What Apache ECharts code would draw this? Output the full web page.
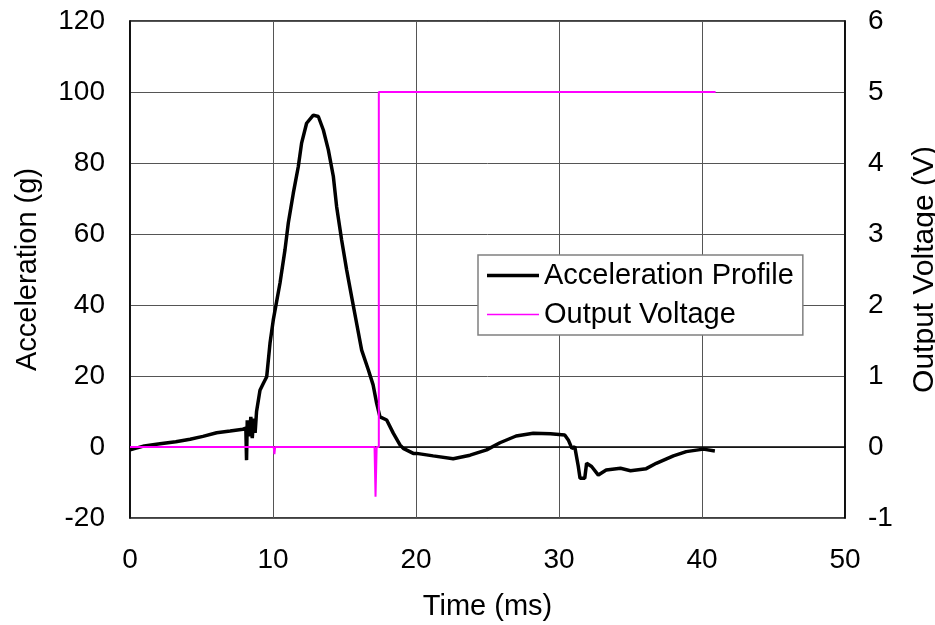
<!DOCTYPE html>
<html>
<head>
<meta charset="utf-8">
<script src="https://cdn.jsdelivr.net/npm/echarts@6/dist/echarts.min.js"></script>
<style>
  html, body { margin: 0; padding: 0; background: #fff; }
  #chart { width: 935px; height: 625px; }
</style>
</head>
<body>
<div id="chart"></div>
<script>
// 加速度曲线 (ms, g)
var accTime = [0, 0.12, 1.0, 2.1, 3.2, 4.2, 5.1, 6.06, 7.0, 7.9, 8.1, 8.15, 8.2, 8.35, 8.45, 8.55, 8.65, 8.75, 8.85,
  9.09, 9.32, 9.56, 9.79, 10.02, 10.49, 10.84, 11.07, 11.42, 11.77, 12.0, 12.35, 12.82, 13.17, 13.52, 13.87,
  14.22, 14.45, 14.8, 15.15, 15.5, 15.85, 16.2, 16.67, 17.0, 17.25, 17.48, 17.95, 18.41, 18.88, 19.11, 19.81,
  20.04, 21.2, 22.6, 23.78, 24.94, 25.87, 27.0, 28.2, 29.4, 30.4, 30.65, 30.9, 31.1, 31.35, 31.47, 31.8,
  31.93, 32.28, 32.75, 33.3, 34.3, 35.0, 36.1, 36.8, 38.0, 38.9, 40.1, 40.9];
var accValue = [-0.8, -0.4, 0.3, 0.9, 1.5, 2.2, 3.0, 4.0, 4.5, 5.0, 5.3, -3.7, 7.5, 3.0, 8.5, 2.5, 8.0, 4.0, 10.0,
  16.0, 17.9, 19.8, 29.2, 35.8, 46.2, 55.6, 63.1, 71.5, 79.0, 85.6, 91.2, 93.5, 93.1, 89.3, 83.7,
  76.2, 67.7, 58.3, 49.9, 42.3, 34.8, 27.3, 21.7, 17.5, 12.3, 8.5, 7.6, 3.9, 0.6, -0.4, -1.8,
  -1.8, -2.5, -3.3, -2.3, -0.8, 1.2, 3.1, 3.9, 3.7, 3.4, 2.0, -0.4, 0.1, -5.5, -8.8, -8.8,
  -4.6, -5.5, -7.9, -6.5, -6.0, -6.7, -6.1, -4.6, -2.5, -1.3, -0.6, -1.1];

// 输出电压 (ms, V)
var voltTime = [0, 10.05, 10.1, 10.15, 17.1, 17.17, 17.25, 17.4, 17.4, 40.95];
var voltValue = [0, 0, -0.1, 0, 0, -0.7, 0, 0, 5, 5];

var xTicks = [0, 10, 20, 30, 40, 50];

function pairs(xs, ys) {
  var out = [];
  for (var i = 0; i < xs.length; i++) out.push([xs[i], ys[i]]);
  return out;
}

// 图例线条图标 (粗/细)
var thickIcon = 'path://M0,0h0.01v0.01h-0.01z M0,5.2h52v3.6h-52z M0,13.99h0.01v0.01h-0.01z';
var thinIcon = 'path://M0,0h0.01v0.01h-0.01z M0,6.2h52v1.6h-52z M0,13.99h0.01v0.01h-0.01z';

var font = 'Liberation Sans, Arial, sans-serif';
var chart = echarts.init(document.getElementById('chart'));
var option = {
  animation: false,
  backgroundColor: '#fff',
  textStyle: { fontFamily: font, color: '#000' },
  grid: { left: 130, right: 90, top: 21, bottom: 107, outerBoundsMode: 'none', containLabel: false,
    show: true, borderColor: '#000', borderWidth: 1.5, backgroundColor: 'transparent' },
  legend: {
    orient: 'vertical',
    left: 478, top: 255,
    padding: [6, 9, 6, 9],
    itemWidth: 52, itemHeight: 14, itemGap: 10,
    backgroundColor: '#fff',
    borderColor: '#808080', borderWidth: 1.5,
    textStyle: { fontSize: 29, color: '#000', fontFamily: font },
    data: [
      { name: 'Acceleration Profile', icon: thickIcon },
      { name: 'Output Voltage', icon: thinIcon }
    ]
  },
  xAxis: {
    type: 'value', min: xTicks[0], max: xTicks[xTicks.length - 1], interval: 10,
    name: 'Time (ms)', nameLocation: 'middle', nameGap: 74,
    nameTextStyle: { fontSize: 29, color: '#000' },
    axisLine: { show: true, lineStyle: { color: '#000', width: 1.5 } },
    axisTick: { show: false },
    axisLabel: { fontSize: 28, color: '#000', margin: 28 },
    splitLine: { show: true, lineStyle: { color: '#555', width: 1 } }
  },
  yAxis: [{
    type: 'value', min: -20, max: 120, interval: 20,
    name: 'Acceleration (g)', nameLocation: 'middle', nameGap: 88,
    nameTextStyle: { fontSize: 29, color: '#000' },
    axisLine: { show: true, lineStyle: { color: '#000', width: 1.5 } },
    axisTick: { show: false },
    axisLabel: { fontSize: 28, color: '#000', margin: 25 },
    splitLine: { show: true, lineStyle: { color: '#555', width: 1 } }
  }, {
    type: 'value', min: -1, max: 6, interval: 1, position: 'right',
    name: 'Output Voltage (V)', nameLocation: 'middle', nameGap: 65, nameRotate: 90,
    nameTextStyle: { fontSize: 30, color: '#000' },
    axisLine: { show: true, lineStyle: { color: '#000', width: 1.5 } },
    axisTick: { show: false },
    axisLabel: { fontSize: 28, color: '#000', margin: 23 },
    splitLine: { show: false }
  }],
  series: [{
    name: 'Acceleration Profile', type: 'line', yAxisIndex: 0,
    symbol: 'none', smooth: false,
    lineStyle: { color: '#000', width: 3.5 },
    itemStyle: { color: '#000' },
    data: pairs(accTime, accValue)
  }, {
    name: 'Output Voltage', type: 'line', yAxisIndex: 1,
    symbol: 'none',
    lineStyle: { color: '#ff00ff', width: 2 },
    itemStyle: { color: '#ff00ff' },
    data: pairs(voltTime, voltValue)
  }]
};
chart.setOption(option);
</script>
</body>
</html>
